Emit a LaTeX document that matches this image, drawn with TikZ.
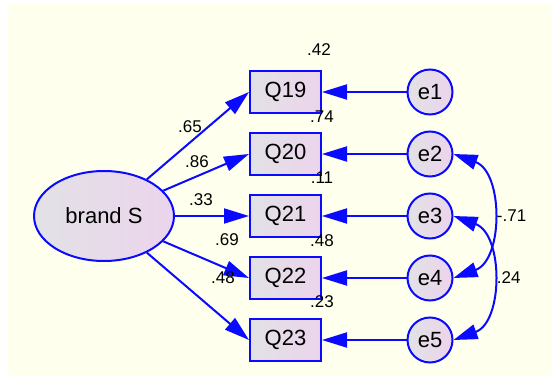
\documentclass[tikz,border=0pt]{standalone}
\usepackage{fontspec}
\setmainfont{Liberation Sans}
\usetikzlibrary{shapes.geometric,arrows.meta}
\definecolor{paper}{RGB}{255,255,238}
\definecolor{pathblue}{RGB}{10,10,255}
\definecolor{fillgray}{RGB}{226,226,230}
\definecolor{fillpink}{RGB}{236,212,236}
\tikzset{
  varshape/.style={draw=pathblue, line width=2pt, left color=fillgray, right color=fillpink,
    font=\fontsize{22}{24}\selectfont, inner sep=0pt},
  obsbox/.style={varshape, rectangle, minimum width=71pt, minimum height=42pt},
  errcirc/.style={varshape, circle, minimum size=45pt},
  latent/.style={varshape, ellipse, minimum width=140pt, minimum height=90pt},
  regpath/.style={draw=pathblue, line width=2pt, -{Triangle[length=25pt,width=15pt]}},
  corrpath/.style={draw=pathblue, line width=2pt, {Triangle[length=24pt,width=15pt]}-{Triangle[length=24pt,width=15pt]}},
  coef/.style={font=\fontsize{17}{19}\selectfont, inner sep=0pt}
}
\begin{document}
\begin{tikzpicture}[x=1pt, y=-1pt]
  \useasboundingbox (0,0) rectangle (552,385);
  \fill[paper] (8,4) rectangle (552,375);

  % latent factor
  \node[latent] (bs) at (104,216) {brand S};

  % observed items and their error terms
  \foreach \i/\q in {1/19,2/20,3/21,4/22,5/23}{
    \node[obsbox] (q\q) at (285.5,{92+62*(\i-1)}) {Q\q};
    \node[errcirc] (e\i) at (430,{92+62*(\i-1)}) {e\i};
    \draw[regpath] (e\i) -- (q\q);
    \draw[regpath] (bs) -- (q\q.west);
  }

  % standardized loadings
  \node[coef] (l19) at (190,127) {.65};
  \node[coef] (l20) at (197,162) {.86};
  \node[coef] (l21) at (201,200) {.33};
  \node[coef] (l22) at (227,240) {.69};
  \node[coef] (l23) at (223,278) {.48};

  % squared multiple correlations
  \node[coef] (r19) at (319,50) {.42};
  \node[coef] (r20) at (322,117) {.74};
  \node[coef] (r21) at (322,178) {.11};
  \node[coef] (r22) at (322,241) {.48};
  \node[coef] (r23) at (322,302) {.23};

  % error covariances
  \draw[corrpath] (e2.east) to[out=-20, in=20, looseness=1.1]
    node[coef, right=5pt] (c24) {-.71} (e4.east);
  \draw[corrpath] (e3.east) to[out=-20, in=20, looseness=1.1]
    node[coef, right=5pt] (c35) {.24} (e5.east);
\end{tikzpicture}
\end{document}
